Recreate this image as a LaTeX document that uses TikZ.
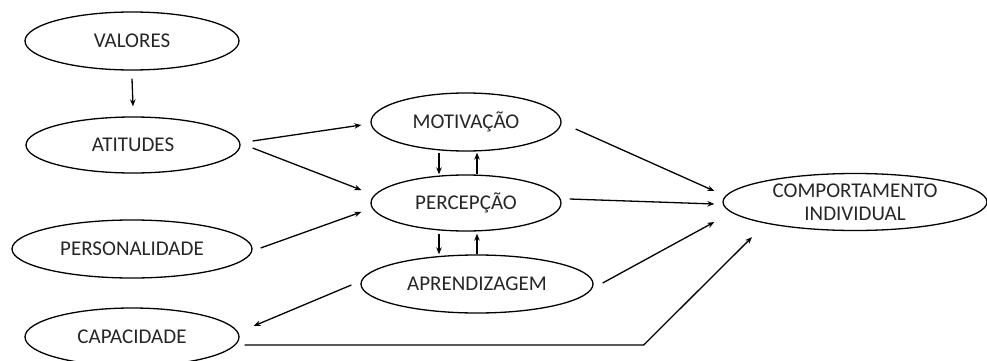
\documentclass[tikz,border=0pt]{standalone}
\usepackage{fontspec}
\setmainfont{Carlito}
\usetikzlibrary{shapes.geometric,arrows.meta,calc}
\begin{document}
\begin{tikzpicture}[x=1pt,y=-1pt,
  oval/.style={draw, ellipse, line width=1.3pt, inner sep=0pt, align=center,
    font=\fontsize{21}{23}\selectfont, text=black!85},
  conn/.style={line width=1.3pt, -{Stealth[length=7pt,width=5.5pt]}}]
\useasboundingbox (0,0) rectangle (987,361);
\node[oval, minimum width=214, minimum height=58] (val) at (132,41) {VALORES};
\node[oval, minimum width=214, minimum height=56] (ati) at (133,145) {ATITUDES};
\node[oval, minimum width=240, minimum height=58] (pers) at (132,249) {PERSONALIDADE};
\node[oval, minimum width=214, minimum height=58] (cap) at (132,337) {CAPACIDADE};
\node[oval, minimum width=190, minimum height=58] (mot) at (466,122) {MOTIVAÇÃO};
\node[oval, minimum width=190, minimum height=56] (per) at (466,203) {PERCEPÇÃO};
\node[oval, minimum width=232, minimum height=58] (apr) at (477,284) {APRENDIZAGEM};
\node[oval, minimum width=264, minimum height=57] (comp) at (855,202) {COMPORTAMENTO\\INDIVIDUAL};
\draw[conn] ($(val.south)+(0,8)$) -- ($(ati.north)+(0,-10)$);
\draw[conn] ($(ati.east)+(12,-4)$) -- ($(mot.west)+(-9,3)$);
\draw[conn] ($(ati.east)+(12,3)$) -- ($(per.west)+(-9,-13)$);
\draw[conn] ($(pers.east)+(8,-1)$) -- ($(per.west)+(-9,9)$);
\draw[conn] ($(mot.south)+(-27,1)$) -- ($(per.north)+(-27,0)$);
\draw[conn] ($(per.north)+(11,0)$) -- ($(mot.south)+(11,1)$);
\draw[conn] ($(per.south)+(-27,2)$) -- ($(apr.north)+(-38,0)$);
\draw[conn] ($(apr.north)+(0,0)$) -- ($(per.south)+(11,2)$);
\draw[conn] ($(apr.west)+(-9,1)$) -- ($(cap.east)+(14,-11)$);
\draw[conn] ($(mot.east)+(14,7)$) -- ($(comp.west)+(-8,-11)$);
\draw[conn] ($(per.east)+(8,-4)$) -- ($(comp.west)+(-8,2)$);
\draw[conn] ($(apr.east)+(9,-1)$) -- ($(comp.west)+(-8,20)$);
\coordinate (bend) at ($(cap.east)+(404,8)$);
\draw[conn] ($(cap.east)+(5,8)$) -- (bend) -- ($(comp.south)+(-103,6)$);
\end{tikzpicture}
\end{document}
